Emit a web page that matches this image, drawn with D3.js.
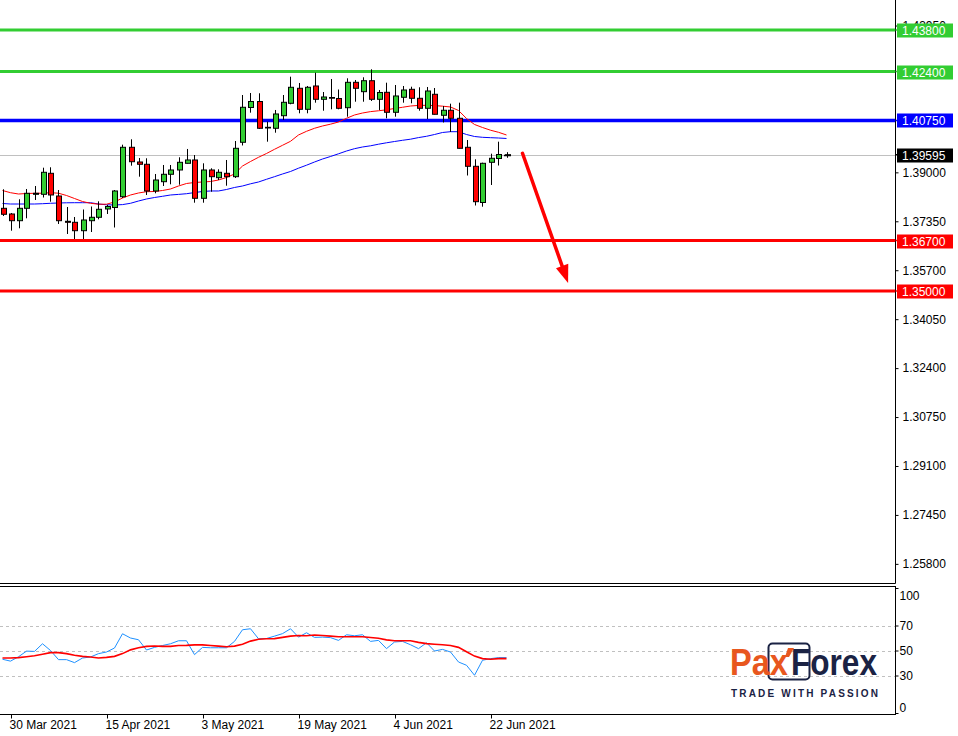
<!DOCTYPE html>
<html><head><meta charset="utf-8">
<script src="https://cdn.jsdelivr.net/npm/d3@7"></script>
<style>
html,body{margin:0;padding:0;background:#fff;}
svg{display:block;}
text{font-family:"Liberation Sans",Arial,sans-serif;}
</style></head>
<body>
<svg id="c" width="958" height="736"></svg>
<script>
// ---------------- DATA ----------------
const dates = ["29 Mar","30 Mar","31 Mar","1 Apr","2 Apr","5 Apr","6 Apr","7 Apr","8 Apr","9 Apr","12 Apr","13 Apr","14 Apr","15 Apr","16 Apr","19 Apr","20 Apr","21 Apr","22 Apr","23 Apr","26 Apr","27 Apr","28 Apr","29 Apr","30 Apr","3 May","4 May","5 May","6 May","7 May","10 May","11 May","12 May","13 May","14 May","17 May","18 May","19 May","20 May","21 May","24 May","25 May","26 May","27 May","28 May","31 May","1 Jun","2 Jun","3 Jun","4 Jun","7 Jun","8 Jun","9 Jun","10 Jun","11 Jun","14 Jun","15 Jun","16 Jun","17 Jun","18 Jun","21 Jun","22 Jun","23 Jun","24 Jun"];
const open  = [1.37788,1.37596,1.37370,1.37788,1.38260,1.38260,1.38968,1.38203,1.37350,1.37316,1.37033,1.37370,1.37485,1.37765,1.37815,1.38179,1.39845,1.39349,1.39272,1.38372,1.38685,1.38935,1.39080,1.39305,1.39417,1.38125,1.39080,1.38820,1.38968,1.38854,1.40014,1.41187,1.41389,1.40519,1.40486,1.40910,1.41328,1.41834,1.41126,1.41912,1.41463,1.41524,1.41490,1.41180,1.42036,1.41720,1.42090,1.41463,1.41699,1.41025,1.41531,1.41800,1.41497,1.41160,1.41632,1.40924,1.41093,1.40823,1.39845,1.39204,1.37984,1.39339,1.39467,1.39590];
const high  = [1.38429,1.37630,1.38092,1.38439,1.38540,1.39157,1.39171,1.38405,1.37832,1.37495,1.37748,1.37849,1.38024,1.37900,1.38405,1.39933,1.40115,1.39484,1.39474,1.38945,1.39248,1.39248,1.39508,1.39788,1.39585,1.39305,1.39137,1.39103,1.39417,1.40057,1.41608,1.41676,1.41666,1.40708,1.41103,1.41608,1.42225,1.42013,1.41912,1.42360,1.41709,1.42148,1.41794,1.42171,1.42114,1.42205,1.42475,1.41777,1.42023,1.41945,1.41912,1.41888,1.41868,1.41878,1.41844,1.41237,1.41315,1.41349,1.40091,1.39440,1.39326,1.39629,1.40034,1.39680];
const low   = [1.37529,1.37033,1.37114,1.37451,1.38068,1.38152,1.38011,1.37259,1.36922,1.36753,1.36753,1.36989,1.37417,1.37596,1.37141,1.38136,1.39225,1.38854,1.38237,1.38294,1.38540,1.38597,1.38584,1.39299,1.37977,1.37977,1.38348,1.38742,1.38550,1.38810,1.39906,1.41012,1.40462,1.40034,1.40337,1.40765,1.41295,1.40991,1.40991,1.41349,1.41079,1.41126,1.41126,1.40877,1.41382,1.41382,1.41406,1.41103,1.40823,1.40877,1.41349,1.41328,1.41079,1.40799,1.40951,1.40681,1.40361,1.39805,1.38894,1.37883,1.37842,1.38574,1.39231,1.39491];
const close = [1.37586,1.37370,1.37788,1.38294,1.38294,1.39002,1.38237,1.37370,1.37316,1.37033,1.37394,1.37485,1.37755,1.37849,1.38372,1.39845,1.39359,1.39272,1.38372,1.38742,1.38935,1.39080,1.39339,1.39417,1.38125,1.39080,1.38854,1.39002,1.38854,1.39811,1.41194,1.41389,1.40486,1.40496,1.40968,1.41362,1.41868,1.41126,1.41868,1.41463,1.41541,1.41500,1.41160,1.42036,1.41834,1.42090,1.41463,1.41693,1.41025,1.41575,1.41777,1.41497,1.41160,1.41743,1.40958,1.41093,1.40823,1.39811,1.39204,1.38011,1.39305,1.39474,1.39602,1.39595];
const maFast = [1.38388,1.38314,1.38270,1.38287,1.38294,1.38297,1.38314,1.38297,1.38220,1.38119,1.38017,1.37957,1.37926,1.37926,1.38001,1.38135,1.38237,1.38304,1.38348,1.38355,1.38388,1.38439,1.38540,1.38624,1.38658,1.38675,1.38692,1.38742,1.38827,1.38945,1.39214,1.39366,1.39508,1.39636,1.39777,1.39912,1.40047,1.40260,1.40384,1.40486,1.40563,1.40624,1.40698,1.40823,1.40934,1.41001,1.41048,1.41076,1.41109,1.41153,1.41194,1.41237,1.41257,1.41261,1.41251,1.41231,1.41204,1.41086,1.40816,1.40614,1.40512,1.40421,1.40351,1.40260];
const maSlow = [1.37950,1.37933,1.37933,1.37933,1.37933,1.37943,1.37957,1.37967,1.37974,1.37977,1.37977,1.37977,1.37933,1.37906,1.37900,1.37913,1.37957,1.38034,1.38102,1.38152,1.38193,1.38237,1.38257,1.38280,1.38318,1.38355,1.38372,1.38372,1.38422,1.38490,1.38540,1.38614,1.38675,1.38766,1.38854,1.38945,1.39029,1.39140,1.39241,1.39349,1.39450,1.39535,1.39626,1.39720,1.39798,1.39855,1.39895,1.39949,1.39997,1.40040,1.40081,1.40118,1.40172,1.40216,1.40276,1.40344,1.40371,1.40371,1.40276,1.40209,1.40182,1.40169,1.40158,1.40142];
const rsi = [43,41.5,45,49.5,49.3,55.4,50,42.7,42.7,40.3,44,44.8,47.5,48.8,52,63.4,60,58.6,50.4,52.5,54,55.4,57.8,57.8,46.7,52.5,52.2,52.2,52.2,57.3,66.6,67.4,59.4,59.6,61.5,63.5,67.4,60.7,64.2,60.5,60.7,60.3,58.1,62.6,61.8,62.6,57.3,58.1,51.5,56.8,57.3,54.6,51.5,56.2,49.6,50.9,48.8,40.8,38.2,30.2,42.2,43.5,44.3,44.3];
const rsiSignal = [44,44,44.3,45,45.8,47,48.3,48.3,47.5,46.2,45.3,44.8,44,44.5,45.3,47.5,50.5,52.2,53.3,53.6,53.3,53.3,54,54.1,54.5,54.5,54,53.5,53,53.5,55,57.5,59,59.4,59.5,60.5,61.5,62,61.8,62.4,62,61.5,61,61,61,61,60.4,59.8,58.5,57.8,57.8,57.8,56.5,55.5,55,54.6,54,52.5,49,45.5,43.5,43,43.5,43.5];

const levelValues = [1.43800,1.42400,1.40750,1.36700,1.35000];
const levelKinds  = ["res","res","pivot","sup","sup"];
const currentPrice = 1.39595;
const priceTicks = [1.25800,1.27450,1.29100,1.30750,1.32400,1.34050,1.35700,1.37350,1.39000,1.43950];
const rsiTicks = [0,30,50,70,100];
const rsiGrid = [30,50,70];
const dateTickIdx = [1,13,25,37,49,61];
const dateTickLabels = ["30 Mar 2021","15 Apr 2021","3 May 2021","19 May 2021","4 Jun 2021","22 Jun 2021"];
// forecast arrow in data space: [index, price]
const arrowFrom = [65.0, 1.39643];
const arrowTo = [70.7, 1.35270];

// ---------------- LAYOUT ----------------
const W = 958, H = 736;
const plotRight = 895.5;
const mainBottom = 583.5;
const subTop = 586.5, subBottom = 714.5;
const COL = {green:"#32cd32", red:"#ff0000", blue:"#0000ff", grey:"#c0c0c0", rsi:"#1e90ff"};
const levelColor = {res:COL.green, pivot:COL.blue, sup:COL.red};

const svg = d3.select("#c");
svg.append("rect").attr("width",W).attr("height",H).attr("fill","#fff");

const x = d3.scaleLinear().domain([0, dates.length-1]).range([2.5, 2.5 + 8*(dates.length-1)]);
const y = d3.scaleLinear().domain([1.25155, 1.44811]).range([583, 0]);
const yr = d3.scaleLinear().domain([0,100]).range([713, 588]);

const defs = svg.append("defs");
defs.append("clipPath").attr("id","mainClip")
  .append("rect").attr("x",0).attr("y",0).attr("width",plotRight).attr("height",mainBottom);
defs.append("clipPath").attr("id","subClip")
  .append("rect").attr("x",0).attr("y",subTop).attr("width",plotRight).attr("height",subBottom-subTop);
defs.append("clipPath").attr("id","topTickClip")
  .append("rect").attr("x",-10).attr("y",-10).attr("width",80).attr("height",33.5);

const main = svg.append("g").attr("clip-path","url(#mainClip)");

// current price line
main.append("line").attr("x1",0).attr("x2",plotRight)
  .attr("y1",Math.round(y(currentPrice))+0.5).attr("y2",Math.round(y(currentPrice))+0.5)
  .attr("stroke",COL.grey).attr("stroke-width",1);

// level lines
main.selectAll("line.level").data(levelValues).join("line").attr("class","level")
  .attr("x1",0).attr("x2",plotRight+4)
  .attr("y1",d=>y(d)).attr("y2",d=>y(d))
  .attr("stroke",(d,i)=>levelColor[levelKinds[i]])
  .attr("stroke-width",(d,i)=>levelKinds[i]==="pivot"?3.5:3);

// moving averages
const idx = d3.range(dates.length);
main.append("path").datum(idx).attr("fill","none").attr("stroke",COL.blue).attr("stroke-width",1)
  .attr("d", d3.line().x(i=>x(i)).y(i=>y(maSlow[i])));
main.append("path").datum(idx).attr("fill","none").attr("stroke",COL.red).attr("stroke-width",1)
  .attr("d", d3.line().x(i=>x(i)).y(i=>y(maFast[i])));

// candles
const cg = main.append("g");
cg.selectAll("line.wick").data(idx).join("line").attr("class","wick")
  .attr("x1",i=>Math.round(x(i))+0.5).attr("x2",i=>Math.round(x(i))+0.5)
  .attr("y1",i=>y(high[i])).attr("y2",i=>y(low[i]))
  .attr("stroke","#000").attr("stroke-width",1);
cg.selectAll("rect.body").data(idx).join("rect").attr("class","body")
  .attr("x",i=>Math.round(x(i))-2+0.5)
  .attr("width",5)
  .attr("y",i=>y(Math.max(open[i],close[i])))
  .attr("height",i=>Math.max(0.01, Math.abs(y(open[i])-y(close[i]))))
  .attr("fill",i=>close[i]>=open[i]?COL.green:COL.red)
  .attr("stroke","#000").attr("stroke-width",1);
// last candle cross arm
cg.append("line").datum(dates.length-1)
  .attr("x1",i=>Math.round(x(i))-3).attr("x2",i=>Math.round(x(i))+4)
  .attr("y1",i=>Math.round(y(close[i]))+0.5).attr("y2",i=>Math.round(y(close[i]))+0.5)
  .attr("stroke","#000").attr("stroke-width",1.5);

// forecast arrow
{
  const x0 = x(arrowFrom[0]), y0 = y(arrowFrom[1]);
  const x1 = x(arrowTo[0]), y1 = y(arrowTo[1]);
  const dx = x1-x0, dy = y1-y0, len = Math.hypot(dx,dy);
  const ux = dx/len, uy = dy/len;
  const headL = 18, headW = 6.5;
  const bx = x1-ux*headL, by = y1-uy*headL;
  svg.append("line").attr("x1",x0).attr("y1",y0).attr("x2",bx+ux*2).attr("y2",by+uy*2)
    .attr("stroke",COL.red).attr("stroke-width",3.5).attr("stroke-linecap","round");
  svg.append("polygon")
    .attr("points",[[x1,y1],[bx+uy*headW,by-ux*headW],[bx-uy*headW,by+ux*headW]].map(p=>p.join(",")).join(" "))
    .attr("fill",COL.red);
}

// ---------------- RSI PANEL ----------------
const sub = svg.append("g").attr("clip-path","url(#subClip)");
sub.selectAll("line.grid").data(rsiGrid).join("line").attr("class","grid")
  .attr("x1",0).attr("x2",plotRight)
  .attr("y1",d=>Math.round(yr(d))+0.5).attr("y2",d=>Math.round(yr(d))+0.5)
  .attr("stroke","#c0c0c0").attr("stroke-dasharray","3,3");
sub.append("path").datum(idx).attr("fill","none").attr("stroke",COL.rsi).attr("stroke-width",1)
  .attr("d", d3.line().x(i=>x(i)).y(i=>yr(rsi[i])));
sub.append("path").datum(idx).attr("fill","none").attr("stroke",COL.red).attr("stroke-width",1.6)
  .attr("d", d3.line().x(i=>x(i)).y(i=>yr(rsiSignal[i])));

// ---------------- FRAMES ----------------
const fr = svg.append("g").attr("stroke","#000").attr("stroke-width",1);
fr.append("line").attr("x1",plotRight).attr("x2",plotRight).attr("y1",0).attr("y2",mainBottom);
fr.append("line").attr("x1",0).attr("x2",plotRight).attr("y1",mainBottom).attr("y2",mainBottom);
fr.append("rect").attr("x",-1).attr("y",subTop).attr("width",plotRight+1).attr("height",subBottom-subTop).attr("fill","none");

// ---------------- AXES ----------------
const yAxis = d3.axisRight(y).tickValues(priceTicks).tickFormat(d3.format(".5f")).tickSize(3).tickPadding(4);
const gy = svg.append("g").attr("transform",`translate(${plotRight},0)`).call(yAxis);
gy.select(".domain").remove();
gy.selectAll("text").attr("font-size",12).attr("fill","#000").attr("font-family","'Liberation Sans',Arial,sans-serif");
gy.selectAll("line").attr("stroke","#000");
// top tick label is partly hidden behind the level tag, as in the source chart
gy.selectAll(".tick").filter(d=>d===1.43950).attr("clip-path","url(#topTickClip)");

const rAxis = d3.axisRight(yr).tickValues(rsiTicks).tickFormat(d3.format("d")).tickSize(3).tickPadding(1);
const gr = svg.append("g").attr("transform",`translate(${plotRight},0)`).call(rAxis);
gr.select(".domain").remove();
gr.selectAll("text").attr("font-size",12).attr("fill","#000").attr("font-family","'Liberation Sans',Arial,sans-serif")
  .attr("dy",d=>d===100?"0.95em":(d===0?"-0.15em":"0.32em"));
gr.selectAll("line").attr("stroke","#000");

const xAxis = d3.axisBottom(x).tickValues(dateTickIdx).tickFormat((d,i)=>dateTickLabels[i]).tickSize(4).tickPadding(2);
const gx = svg.append("g").attr("transform",`translate(0,${subBottom})`).call(xAxis);
gx.select(".domain").remove();
gx.selectAll("line").attr("stroke","#000").attr("transform","translate(0.5,0)");
gx.selectAll("text").attr("font-size",12).attr("fill","#000").attr("text-anchor","start")
  .attr("dx",-1.5).attr("font-family","'Liberation Sans',Arial,sans-serif");

// price labels for levels and current price
const tags = levelValues.map((v,i)=>({v, col:levelColor[levelKinds[i]]}));
tags.push({v:currentPrice, col:"#000"});
const tg = svg.append("g");
tg.selectAll("rect").data(tags).join("rect")
  .attr("x",897).attr("width",56).attr("y",d=>Math.round(y(d.v))-6.5).attr("height",14)
  .attr("fill",d=>d.col);
tg.selectAll("line").data(tags).join("line")
  .attr("x1",plotRight).attr("x2",897).attr("y1",d=>y(d.v)).attr("y2",d=>y(d.v))
  .attr("stroke",d=>d.col).attr("stroke-width",1.5);
tg.selectAll("text").data(tags).join("text")
  .attr("x",902).attr("y",d=>Math.round(y(d.v))+0.5).attr("dy","0.36em")
  .attr("font-size",12).attr("fill","#fff").text(d=>d3.format(".5f")(d.v));

// ---------------- LOGO ----------------
const logo = svg.append("g");
logo.append("rect").attr("x",768.5).attr("y",643.5).attr("width",41).attr("height",36).attr("rx",4)
  .attr("fill","none").attr("stroke","#1b2344").attr("stroke-width",2);
logo.append("text").attr("x",730).attr("y",675).attr("font-size",37)
  .attr("font-family","Lato, 'Open Sans', sans-serif").attr("font-weight",700)
  .attr("textLength",58).attr("lengthAdjust","spacingAndGlyphs")
  .attr("fill","#e8571e").text("Pax");
logo.append("text").attr("x",791).attr("y",675).attr("font-size",37)
  .attr("font-family","Lato, 'Open Sans', sans-serif").attr("font-weight",700)
  .attr("textLength",86).attr("lengthAdjust","spacingAndGlyphs")
  .attr("fill","#1b2344").text("Forex");
logo.append("polygon").attr("points","788,648 794,648 789,657 785,657").attr("fill","#e8571e");
logo.append("text").attr("x",731).attr("y",697).attr("font-size",10).attr("font-weight",700)
  .attr("font-family","'Open Sans', Lato, sans-serif").attr("fill","#1b2344")
  .attr("textLength",147).attr("lengthAdjust","spacing").text("TRADE WITH PASSION");
</script>
</body></html>
